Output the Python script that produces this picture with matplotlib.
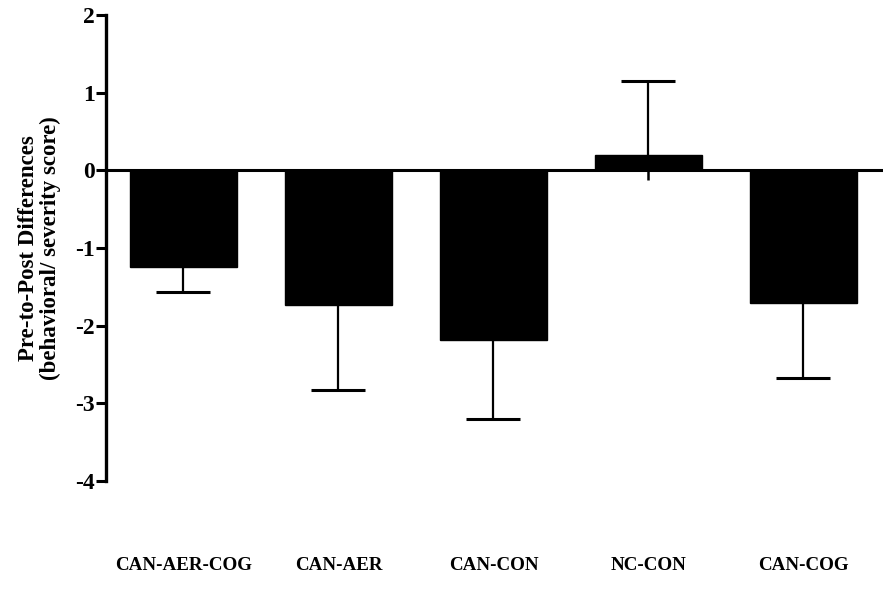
import matplotlib.pyplot as plt
from matplotlib.transforms import blended_transform_factory

groups = ["CAN-AER-COG", "CAN-AER", "CAN-CON", "NC-CON", "CAN-COG"]
means = [-1.25, -1.73, -2.18, 0.20, -1.71]
errors = [0.32, 1.10, 1.02, 0.95, 0.97]
nc_low = -0.13  # short stub drawn below the NC-CON bar

plt.rcParams['font.family'] = ['Liberation Serif', 'DejaVu Serif']
plt.rcParams['font.weight'] = 'bold'

fig = plt.figure(figsize=(8.83, 5.93), dpi=100)
ax = fig.add_axes([0.12, 0.1889, 0.88, 0.7858])

x = list(range(len(groups)))
ax.bar(x, means, width=0.69, color='black', edgecolor='black', zorder=2)

# one-sided error bars, pointing away from zero
for xi, m, e in zip(x, means, errors):
    if m < 0:
        yerr = [[e], [0]]
    else:
        yerr = [[0], [e]]
    _, caps, _ = ax.errorbar(xi, m, yerr=yerr, fmt='none', ecolor='black',
                             elinewidth=1.6, capsize=19.5, capthick=2.2, zorder=1)
    # hide the cap that sits on the bar end
    caps[1 if m < 0 else 0].set_visible(False)
ax.vlines(x[3], nc_low, 0, color='black', linewidth=1.8, zorder=1)

ax.axhline(0, color='black', linewidth=2.2, zorder=3)

ax.set_xlim(-0.5, 4.513)
ax.set_ylim(-4, 2)
ax.set_yticks([-4, -3, -2, -1, 0, 1, 2])
ax.set_yticklabels(['-4', '-3', '-2', '-1', '0', '1', '2'])
ax.set_xticks([])

for s in ['top', 'right', 'bottom']:
    ax.spines[s].set_visible(False)
ax.spines['left'].set_linewidth(2.4)
ax.spines['left'].set_bounds(-4, 2)
ax.tick_params(axis='y', length=7, width=2.2, labelsize=17, pad=1)
for lab in ax.get_yticklabels():
    lab.set_fontweight('bold')

ax.set_ylabel("Pre-to-Post Differences\n(behavioral/ severity score)",
              fontsize=16.5, fontweight='bold', labelpad=10, linespacing=1.05)

trans = blended_transform_factory(ax.transData, fig.transFigure)
for xi, g in zip(x, groups):
    ax.text(xi, 0.047, g, transform=trans, ha='center', va='center',
            fontsize=13.7, fontweight='bold')

fig.savefig('out.png', dpi=100)
